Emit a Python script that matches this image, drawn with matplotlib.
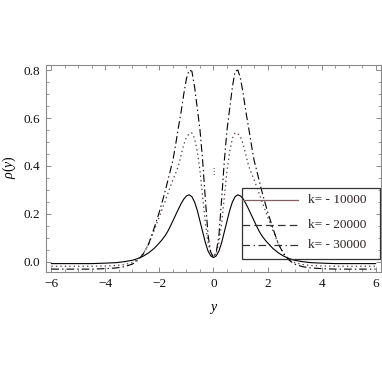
import numpy as np
import matplotlib
matplotlib.use("Agg")
import matplotlib.pyplot as plt
from matplotlib.lines import Line2D
from matplotlib.patches import Rectangle
from matplotlib.ticker import MultipleLocator

plt.rcParams["font.family"] = ["Liberation Serif", "DejaVu Serif"]
plt.rcParams["mathtext.fontset"] = "custom"
plt.rcParams["mathtext.it"] = "Liberation Serif:italic"
plt.rcParams["mathtext.rm"] = "Liberation Serif"
plt.rcParams["lines.scale_dashes"] = False

# right half of each curve (y >= 0), mirrored for y < 0
y_half = [0.0, 0.1, 0.2, 0.3, 0.4, 0.5, 0.6, 0.7, 0.8, 0.9, 1.0, 1.1, 1.2, 1.3,
          1.4, 1.5, 1.6, 1.7, 1.8, 1.9, 2.0, 2.2, 2.4, 2.6, 2.8, 3.0, 3.3, 3.6,
          4.0, 4.5, 5.0, 5.5, 6.0]
rho_k10 = [0.018, 0.025, 0.045, 0.08, 0.125, 0.17, 0.215, 0.25, 0.272, 0.28,
           0.275, 0.262, 0.243, 0.22, 0.196, 0.172, 0.148, 0.126, 0.108, 0.093,
           0.08, 0.056, 0.038, 0.024, 0.014, 0.007, 0.001, -0.003, -0.005,
           -0.007, -0.007, -0.007, -0.007]
rho_k20 = [0.02, 0.035, 0.08, 0.16, 0.27, 0.38, 0.46, 0.515, 0.538, 0.535,
           0.52, 0.49, 0.445, 0.40, 0.37, 0.343, 0.313, 0.282, 0.25, 0.22,
           0.19, 0.13, 0.075, 0.035, 0.01, -0.003, -0.011, -0.015, -0.017,
           -0.018, -0.018, -0.018, -0.018]
rho_k30 = [0.02, 0.04, 0.11, 0.26, 0.42, 0.55, 0.64, 0.73, 0.795, 0.80,
           0.765, 0.70, 0.625, 0.56, 0.49, 0.425, 0.38, 0.335, 0.29, 0.25,
           0.21, 0.14, 0.075, 0.033, 0.007, -0.009, -0.02, -0.025, -0.028,
           -0.03, -0.03, -0.03, -0.03]
labels = ["k= - 10000", "k= - 20000", "k= - 30000"]


def full(vals):
    v = np.asarray(vals)
    return np.concatenate([v[:0:-1], v])


y = np.concatenate([-np.asarray(y_half)[:0:-1], np.asarray(y_half)])

fig = plt.figure(figsize=(3.82, 3.82), dpi=100)
ax = fig.add_axes([46 / 382, 110 / 382, 335 / 382, 207 / 382])

ax.plot(y, full(rho_k10), color="black", lw=0.8, ls="-")
ax.plot(y, full(rho_k20), color="#5a4040", lw=0.9, ls=(0, (1, 2.2)))
ax.plot(y, full(rho_k30), color="black", lw=0.8, ls=(0, (5.5, 2.2, 1, 2.2)))

ax.set_xlim(-6.2, 6.2)
ax.set_ylim(-0.042, 0.821)
ax.xaxis.set_major_locator(MultipleLocator(2))
ax.xaxis.set_minor_locator(MultipleLocator(0.5))
ax.yaxis.set_major_locator(MultipleLocator(0.2))
ax.yaxis.set_minor_locator(MultipleLocator(0.05))
ax.yaxis.set_major_formatter(plt.FuncFormatter(lambda v, p: f"{v:.1f}"))
ax.xaxis.set_major_formatter(plt.FuncFormatter(lambda v, p: f"{v:.0f}".replace("-", "\u2212")))

for s in ax.spines.values():
    s.set_color("#8a8a8a")
    s.set_linewidth(0.8)
ax.tick_params(which="both", direction="in", top=True, right=True,
               color="#8a8a8a", labelsize=9.5, labelcolor="#111111")
ax.tick_params(which="major", length=3.6, width=0.7, pad=4)
ax.tick_params(which="minor", length=2.0, width=0.6)

ax.set_xlabel(r"$y$", fontsize=10)
ax.set_ylabel(r"$\rho(y)$", fontsize=10)
ax.xaxis.set_label_coords(0.5, -0.145)
ax.yaxis.set_label_coords(-0.085, 0.507)

# small stray mark near the centre, as in the original
ax.text(0.0, 0.375, "\u22ee", fontsize=6, ha="center", va="center",
        color="#333333", family=["DejaVu Sans"])

# legend box, Mathematica style (no fill)
bx0, bx1, by0, by1 = 0.585, 0.997, 0.061, 0.407
ax.add_patch(Rectangle((bx0, by0), bx1 - bx0, by1 - by0, transform=ax.transAxes,
                       fill=False, edgecolor="#333333", lw=0.9, zorder=5))
rows = [0.348, 0.227, 0.130]
styles = [("-", "#806060"), ((0, (5.5, 3)), "#333333"), ((0, (5.5, 2.5, 1, 2.5)), "#333333")]
for yy, (ls, c), lab in zip(rows, styles, labels):
    ax.add_line(Line2D([bx0, 0.752], [yy, yy], transform=ax.transAxes,
                       color=c, lw=0.9, ls=ls, zorder=5))
    ax.text(0.782, yy, lab, transform=ax.transAxes, fontsize=9.5,
            color="#2a2020", va="center", ha="left", zorder=5)

fig.savefig("out.png", dpi=100)
